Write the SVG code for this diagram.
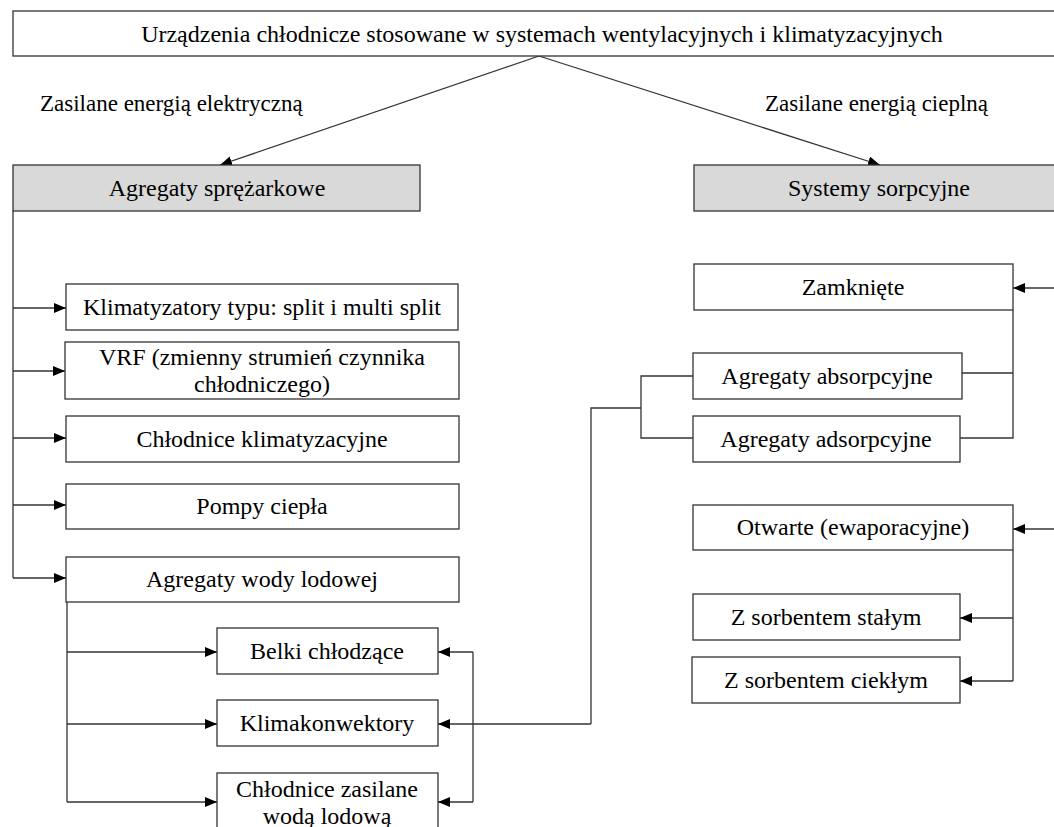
<svg xmlns="http://www.w3.org/2000/svg" width="1054" height="827" viewBox="0 0 1054 827">
<style>
.box{fill:#fff;stroke:#333;stroke-width:1.3}
.grey{fill:#d9d9d9;stroke:#333;stroke-width:1.3}
.t{font-family:"Liberation Serif","Times New Roman",serif;font-size:24px;fill:#000;text-anchor:middle}
.l{font-family:"Liberation Serif","Times New Roman",serif;font-size:23px;fill:#000}
.c{fill:none;stroke:#333;stroke-width:1.3}
.a{marker-end:url(#ah)}
</style>
<defs>
<marker id="ah" markerUnits="userSpaceOnUse" markerWidth="12" markerHeight="10" viewBox="0 0 12 10" refX="12" refY="5" orient="auto">
<path d="M0,0 L12,5 L0,10 Z" fill="#000"/>
</marker>
</defs>
<rect width="1054" height="827" fill="#fff"/>

<g id="connectors">
<line class="c a" x1="539" y1="56" x2="220" y2="165"/>
<line class="c a" x1="539" y1="56" x2="880" y2="165"/>
<path class="c" d="M13,211 V578"/>
<line class="c a" x1="13" y1="308" x2="66" y2="308"/>
<line class="c a" x1="13" y1="371" x2="65" y2="371"/>
<line class="c a" x1="13" y1="438" x2="66" y2="438"/>
<line class="c a" x1="13" y1="505" x2="66" y2="505"/>
<line class="c a" x1="13" y1="578" x2="66" y2="578"/>
<path class="c" d="M67,602 V802"/>
<line class="c a" x1="67" y1="652" x2="217" y2="652"/>
<line class="c a" x1="67" y1="724" x2="217" y2="724"/>
<line class="c a" x1="67" y1="802" x2="217" y2="802"/>
<path class="c" d="M473,652 V802"/>
<line class="c a" x1="473" y1="652" x2="438" y2="652"/>
<line class="c a" x1="473" y1="802" x2="438" y2="802"/>
<line class="c a" x1="591" y1="724" x2="438" y2="724"/>
<path class="c" d="M591,724 V408 H641"/>
<path class="c" d="M693,376 H641 V438 H693"/>
<line class="c a" x1="1060" y1="288" x2="1013" y2="288"/>
<path class="c" d="M1013,310 V438 H960 M962,373 H1013"/>
<line class="c a" x1="1060" y1="529" x2="1013" y2="529"/>
<path class="c" d="M1013,550 V681"/>
<line class="c a" x1="1013" y1="618" x2="960" y2="618"/>
<line class="c a" x1="1013" y1="681" x2="960" y2="681"/>
</g>

<g id="root"><rect class="box" x="13" y="11" width="1060" height="45"/><text class="t" x="542" y="42">Urządzenia chłodnicze stosowane w systemach wentylacyjnych i klimatyzacyjnych</text></g>
<g id="label-el"><text class="l" x="40" y="111">Zasilane energią elektryczną</text></g>
<g id="label-heat"><text class="l" x="765" y="111">Zasilane energią cieplną</text></g>

<g id="sprezarkowe"><rect class="grey" x="13" y="165" width="407" height="46"/><text class="t" x="217" y="196">Agregaty sprężarkowe</text></g>
<g id="sorpcyjne"><rect class="grey" x="694" y="165" width="380" height="46"/><text class="t" x="879" y="196">Systemy sorpcyjne</text></g>

<g id="split"><rect class="box" x="66" y="284" width="392" height="46"/><text class="t" x="262" y="315">Klimatyzatory typu: split i multi split</text></g>
<g id="vrf"><rect class="box" x="65" y="342" width="394" height="57"/><text class="t" x="262" y="365">VRF (zmienny strumień czynnika</text><text class="t" x="262" y="392">chłodniczego)</text></g>
<g id="chlodnice-klim"><rect class="box" x="66" y="416" width="393" height="46"/><text class="t" x="262" y="447">Chłodnice klimatyzacyjne</text></g>
<g id="pompy"><rect class="box" x="66" y="484" width="393" height="45"/><text class="t" x="262" y="514">Pompy ciepła</text></g>
<g id="wody-lodowej"><rect class="box" x="66" y="557" width="393" height="45"/><text class="t" x="262" y="587">Agregaty wody lodowej</text></g>
<g id="belki"><rect class="box" x="217" y="628" width="221" height="46"/><text class="t" x="327" y="659">Belki chłodzące</text></g>
<g id="klimakonwektory"><rect class="box" x="217" y="700" width="221" height="46"/><text class="t" x="327" y="731">Klimakonwektory</text></g>
<g id="chlodnice-woda"><rect class="box" x="217" y="773" width="221" height="70"/><text class="t" x="327" y="797">Chłodnice zasilane</text><text class="t" x="327" y="824">wodą lodową</text></g>

<g id="zamkniete"><rect class="box" x="694" y="264" width="319" height="46"/><text class="t" x="853" y="295">Zamknięte</text></g>
<g id="absorpcyjne"><rect class="box" x="693" y="353" width="269" height="46"/><text class="t" x="827" y="384">Agregaty absorpcyjne</text></g>
<g id="adsorpcyjne"><rect class="box" x="693" y="416" width="267" height="46"/><text class="t" x="826" y="447">Agregaty adsorpcyjne</text></g>
<g id="otwarte"><rect class="box" x="693" y="505" width="320" height="45"/><text class="t" x="853" y="535">Otwarte (ewaporacyjne)</text></g>
<g id="staly"><rect class="box" x="693" y="594" width="267" height="46"/><text class="t" x="826" y="625">Z sorbentem stałym</text></g>
<g id="ciekly"><rect class="box" x="692" y="657" width="268" height="46"/><text class="t" x="826" y="688">Z sorbentem ciekłym</text></g>
</svg>
